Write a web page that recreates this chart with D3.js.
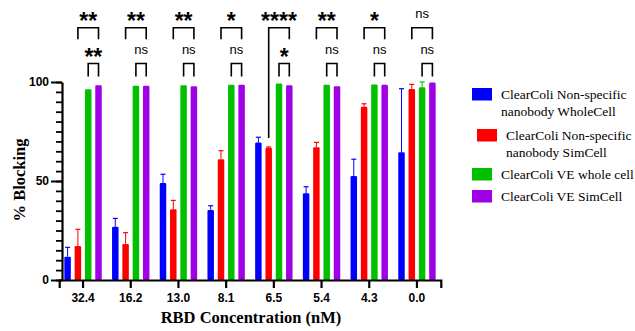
<!DOCTYPE html>
<html>
<head>
<meta charset="utf-8">
<script src="https://cdn.jsdelivr.net/npm/d3@7"></script>
<style>
  body { margin: 0; background: #fff; }
  svg { display: block; }
</style>
</head>
<body>
<div id="chart"></div>
<script>
// data
const categories = ["32.4", "16.2", "13.0", "8.1", "6.5", "5.4", "4.3", "0.0"];
const seriesNames = [
  "ClearColi Non-specific nanobody WholeCell",
  "ClearColi Non-specific nanobody SimCell",
  "ClearColi VE whole cell",
  "ClearColi VE SimCell"
];
const wholeCellNS = [11.8, 26.9, 49.0, 35.4, 69.4, 43.8, 52.5, 64.5];
const wholeCellNSErr = [4.7, 4.2, 4.4, 2.1, 2.7, 3.3, 8.5, 32.1];
const simCellNS = [17.2, 18.2, 35.7, 61.0, 66.8, 67.0, 87.5, 96.5];
const simCellNSErr = [8.4, 5.7, 4.5, 4.3, 0.4, 2.5, 1.5, 2.3];
const wholeCellVE = [96.3, 98.1, 98.3, 98.6, 99.3, 98.6, 98.8, 97.3];
const wholeCellVEErr = [0, 0, 0, 0, 0, 0, 0, 2.7];
const simCellVE = [98.3, 98.1, 97.8, 98.6, 98.3, 97.9, 98.6, 99.7];
const simCellVEErr = [0, 0, 0, 0, 0, 0, 0, 0];
const sigTop = ["**", "**", "**", "*", "****", "**", "*", "ns"];
const sigBottom = ["**", "ns", "ns", "ns", "*", "ns", "ns", "ns"];
const longLeftLeg = [false, false, false, false, true, false, false, false];
const yTicks = [0, 50, 100];

const values = [wholeCellNS, simCellNS, wholeCellVE, simCellVE];
const errors = [wholeCellNSErr, simCellNSErr, wholeCellVEErr, simCellVEErr];
const colors = ["#0000FF", "#FF0000", "#00C000", "#A000E6"];

const width = 635, height = 331;
const svg = d3.select("#chart").append("svg")
  .attr("width", width).attr("height", height);

const x = d3.scaleBand().domain(categories).range([59.2, 440.8]).padding(0);
const xi = d3.scaleBand().domain(d3.range(4)).range([0, x.bandwidth()])
  .paddingInner(0.37).paddingOuter(0.5);
const y = d3.scaleLinear().domain([0, 100]).range([280, 82]);

// bars
const groups = svg.append("g").selectAll("g")
  .data(categories)
  .join("g")
  .attr("transform", d => `translate(${x(d)},0)`);

groups.each(function (c, ci) {
  const g = d3.select(this);
  values.forEach((vals, si) => {
    const v = vals[ci], e = errors[si][ci];
    const bx = xi(si), bw = xi.bandwidth();
    if (e > 0) {
      const cx = bx + bw / 2;
      g.append("line")
        .attr("x1", cx).attr("x2", cx)
        .attr("y1", y(v)).attr("y2", y(v + e))
        .attr("stroke", colors[si]).attr("stroke-width", 1);
      g.append("line")
        .attr("x1", cx - 2.5).attr("x2", cx + 2.5)
        .attr("y1", y(v + e)).attr("y2", y(v + e))
        .attr("stroke", colors[si]).attr("stroke-width", 1.2);
    }
    g.append("rect")
      .attr("x", bx).attr("width", bw)
      .attr("y", y(v)).attr("height", y(0) - y(v))
      .attr("rx", 1.2)
      .attr("fill", colors[si]);
  });
});

// axes
const xAxis = svg.append("g")
  .attr("transform", "translate(0,280)")
  .call(d3.axisBottom(x).tickSizeOuter(0).tickSize(8).tickPadding(5));
xAxis.select(".domain").attr("stroke-width", 2.2);
xAxis.selectAll(".tick line").attr("stroke-width", 2.2);
xAxis.selectAll("text")
  .attr("font-family", "Liberation Sans, Arial, sans-serif")
  .attr("font-weight", "bold").attr("font-size", 12).attr("fill", "#000");

const yMinor = svg.append("g")
  .attr("transform", "translate(62,0)")
  .call(d3.axisLeft(y).tickValues(d3.range(0, 101, 5)).tickSize(6).tickSizeOuter(0).tickFormat(""));
yMinor.select(".domain").remove();
yMinor.selectAll(".tick line").attr("stroke-width", 1.8);

const yAxis = svg.append("g")
  .attr("transform", "translate(62,0)")
  .call(d3.axisLeft(y).tickValues(yTicks).tickSize(11).tickSizeOuter(0).tickPadding(2));
yAxis.select(".domain").attr("stroke-width", 2.2);
yAxis.selectAll(".tick line").attr("stroke-width", 2);
yAxis.selectAll("text")
  .attr("font-family", "Liberation Sans, Arial, sans-serif")
  .attr("font-weight", "bold").attr("font-size", 12).attr("fill", "#000");

// axis titles
svg.append("text")
  .attr("x", 251).attr("y", 323)
  .attr("text-anchor", "middle")
  .attr("font-family", "Liberation Serif, Times New Roman, serif")
  .attr("font-weight", "bold").attr("font-size", 16.5)
  .text("RBD Concentration (nM)");

svg.append("text")
  .attr("transform", "translate(25,180) rotate(-90)")
  .attr("text-anchor", "middle")
  .attr("font-family", "Liberation Serif, Times New Roman, serif")
  .attr("font-weight", "bold").attr("font-size", 16.5)
  .text("% Blocking");

// significance brackets
function sigLabel(g, cx, yTop, label) {
  const ns = label === "ns";
  g.append("text")
    .attr("x", cx).attr("y", ns ? yTop - 9.5 : yTop + 1.5)
    .attr("text-anchor", "middle")
    .attr("font-family", "Liberation Sans, Arial, sans-serif")
    .attr("font-weight", ns ? "normal" : "bold")
    .attr("font-size", ns ? 13 : 23)
    .attr("fill", "#000")
    .text(label);
}

const sig = svg.append("g").attr("fill", "none").attr("stroke", "#000").attr("stroke-width", 1.6);
categories.forEach((c, ci) => {
  const xRed = x(c) + xi(1) + xi.bandwidth() / 2;
  const xGreen = x(c) + xi(2) + xi.bandwidth() / 2;
  const xPurple = x(c) + xi(3) + xi.bandwidth() / 2;
  const top1 = 27.7, top2 = 63.5;
  const leftEnd = longLeftLeg[ci] ? y(simCellNS[ci] + simCellNSErr[ci]) - 9 : top1 + 11.5;
  sig.append("path").attr("d", `M${xRed},${leftEnd}V${top1}H${xPurple}V${top1 + 11.5}`);
  sig.append("path").attr("d", `M${xGreen},${top2 + 13}V${top2}H${xPurple}V${top2 + 13}`);
  sigLabel(svg, (xRed + xPurple) / 2, top1, sigTop[ci]);
  sigLabel(svg, (xGreen + xPurple) / 2, top2, sigBottom[ci]);
});

// legend
const legendLines = [
  ["ClearColi Non-specific", "nanobody WholeCell"],
  ["ClearColi Non-specific", "nanobody SimCell"],
  ["ClearColi VE whole cell"],
  ["ClearColi VE SimCell"]
];
const legendY = [88, 129, 168, 190];
const legendX = [472, 477, 472, 472];
const legend = svg.append("g");
seriesNames.forEach((name, i) => {
  legend.append("rect")
    .attr("x", legendX[i]).attr("y", legendY[i])
    .attr("width", 20).attr("height", 12.5)
    .attr("fill", colors[i]);
  const t = legend.append("text")
    .attr("font-family", "Liberation Serif, Times New Roman, serif")
    .attr("font-size", 13.5).attr("fill", "#000");
  legendLines[i].forEach((line, li) => {
    t.append("tspan")
      .attr("x", legendX[i] + 29)
      .attr("y", legendY[i] + 11 + li * 17)
      .text(line);
  });
});
</script>
</body>
</html>
